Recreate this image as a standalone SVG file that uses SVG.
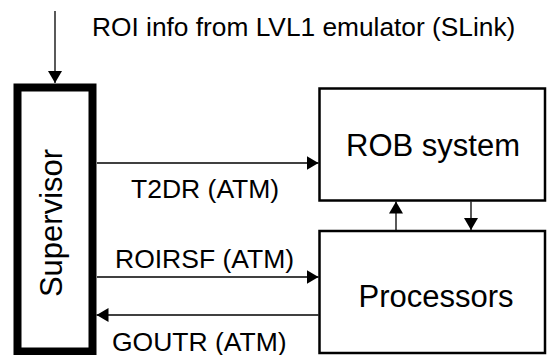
<svg xmlns="http://www.w3.org/2000/svg" width="547" height="355" viewBox="0 0 547 355">
<style>
text{font-family:"Liberation Sans",Arial,sans-serif;fill:#000}
.big{font-size:31px}
.lbl{font-size:26.5px}
.box{fill:#fff;stroke:#000;stroke-width:2.5}
.ln{stroke:#000;stroke-width:1.3;fill:none}
</style>
<defs>
<marker id="ah" viewBox="0 0 12 14" refX="12" refY="7" markerWidth="12" markerHeight="14" markerUnits="userSpaceOnUse" orient="auto">
<path d="M0,0 L12,7 L0,14 Z" fill="#000"/>
</marker>
</defs>
<rect width="547" height="355" fill="#fff"/>
<g id="supervisor">
<rect x="17.5" y="87.5" width="75" height="264" fill="#fff" stroke="#000" stroke-width="8"/>
<text class="big" transform="translate(62,223) rotate(-90)" text-anchor="middle">Supervisor</text>
</g>
<g id="rob">
<rect class="box" x="319.5" y="88.5" width="225.5" height="112"/>
<text class="big" x="433" y="156" text-anchor="middle">ROB system</text>
</g>
<g id="processors">
<rect class="box" x="319.5" y="231" width="225.5" height="122"/>
<text class="big" x="436" y="307" text-anchor="middle">Processors</text>
</g>
<g id="connectors">
<line class="ln" x1="55" y1="11" x2="55" y2="83" marker-end="url(#ah)"/>
<text x="92" y="35.5" style="font-size:26.3px">ROI info from LVL1 emulator (SLink)</text>
<line class="ln" x1="97" y1="163" x2="318.5" y2="163" marker-end="url(#ah)"/>
<text class="lbl" x="131" y="198">T2DR (ATM)</text>
<line class="ln" x1="97" y1="277" x2="318.5" y2="277" marker-end="url(#ah)"/>
<text class="lbl" x="115" y="268">ROIRSF (ATM)</text>
<line class="ln" x1="318.5" y1="315" x2="96.5" y2="315" marker-end="url(#ah)"/>
<text class="lbl" x="112" y="350.5">GOUTR (ATM)</text>
<line class="ln" x1="396" y1="230" x2="396" y2="201.5" marker-end="url(#ah)"/>
<line class="ln" x1="471" y1="201.5" x2="471" y2="230" marker-end="url(#ah)"/>
</g>
</svg>
